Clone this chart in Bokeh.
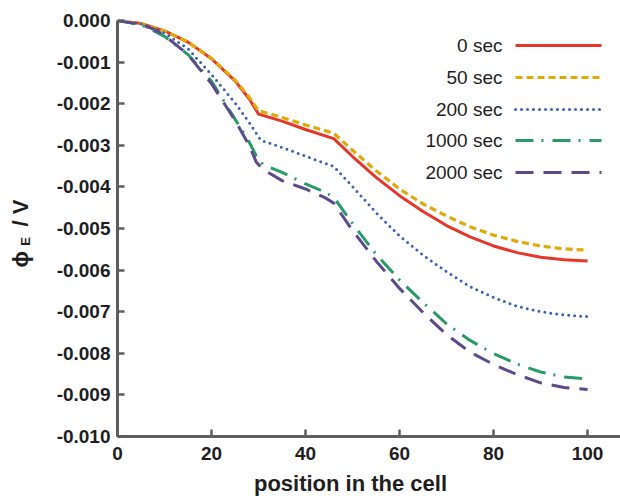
import math
from bokeh.plotting import figure
from bokeh.models import Label, Arrow, Range1d, FixedTicker
from bokeh.embed import file_html
from bokeh.resources import INLINE

# ---- data (potential in mV, converted to V below) ----
x_0s = [0, 5, 10, 15, 20, 25, 28, 30, 35, 40, 46, 50, 55, 60, 65, 70, 75, 80, 85, 90, 95, 100]
y_0s = [0, -0.07, -0.25, -0.52, -0.92, -1.45, -1.88, -2.25, -2.42, -2.62, -2.84, -3.27,
        -3.77, -4.21, -4.59, -4.93, -5.20, -5.42, -5.58, -5.69, -5.75, -5.78]

x_50s = [0, 5, 10, 15, 20, 25, 28, 30, 35, 40, 46, 50, 55, 60, 65, 70, 75, 80, 85, 90, 95, 100]
y_50s = [0, -0.07, -0.25, -0.52, -0.91, -1.43, -1.84, -2.17, -2.33, -2.51, -2.71, -3.12,
         -3.61, -4.05, -4.41, -4.70, -4.96, -5.16, -5.31, -5.42, -5.49, -5.52]

x_200s = [0, 5, 10, 15, 20, 25, 28, 30.5, 35, 40, 46, 50, 55, 60, 65, 70, 75, 80, 85, 90, 95, 100]
y_200s = [0, -0.08, -0.30, -0.68, -1.30, -1.98, -2.45, -2.88, -3.05, -3.26, -3.51, -3.99,
          -4.62, -5.18, -5.64, -6.04, -6.40, -6.66, -6.87, -7.00, -7.08, -7.12]

x_1000s = [0, 5, 10, 15, 20, 25, 28, 29.5, 31, 35, 40, 44, 46, 50, 55, 60, 65, 70, 75, 80,
           85, 90, 95, 100]
y_1000s = [0, -0.10, -0.38, -0.82, -1.46, -2.37, -2.92, -3.25, -3.47, -3.65, -3.93, -4.12,
           -4.25, -4.88, -5.62, -6.24, -6.78, -7.29, -7.69, -8.01, -8.26, -8.45, -8.57, -8.62]

x_2000s = [0, 5, 8, 10, 15, 20, 25, 28, 29.5, 31, 35, 40, 44, 46, 50, 55, 60, 65, 70, 75,
           80, 85, 90, 95, 100]
y_2000s = [0, -0.10, -0.22, -0.36, -0.82, -1.52, -2.40, -3.00, -3.40, -3.58, -3.85, -4.05,
           -4.25, -4.39, -5.05, -5.78, -6.44, -7.02, -7.55, -7.97, -8.27, -8.51, -8.71,
           -8.82, -8.87]

series_labels = ["0 sec", "50 sec", "200 sec", "1000 sec", "2000 sec"]

x_ticks = [0, 20, 40, 60, 80, 100]
y_ticks = [0.0, -0.001, -0.002, -0.003, -0.004, -0.005, -0.006, -0.007, -0.008, -0.009, -0.010]
y_tick_labels = ["0.000", "-0.001", "-0.002", "-0.003", "-0.004", "-0.005", "-0.006",
                 "-0.007", "-0.008", "-0.009", "-0.010"]

# ---- styles / layout ----
colors = ["#e5372a", "#e2a90a", "#3c62b4", "#2a9a68", "#5b4a8c"]
dashes = ["solid", "7 4", "0 6", "18 8 2 9", "18 10"]
caps = ["butt", "butt", "round", "butt", "butt"]
widths = [3, 3.2, 3, 3, 3]

FONT = "Liberation Sans"
TXT = "#1e1e1e"
AX = "#5e5e5e"

W, H = 620, 496
B_LEFT, B_RIGHT, B_TOP, B_BOTTOM = 117, 0, 20, 60
X0, X1 = 0.0, 107.0
Y0, Y1 = -0.010, 0.0
FW, FH = W - B_LEFT - B_RIGHT, H - B_TOP - B_BOTTOM


def px_x(px):
    """canvas pixel column -> x data coordinate (for placing titles)"""
    return X0 + (px - B_LEFT) / FW * (X1 - X0)


def px_y(py):
    """canvas pixel row -> y data coordinate (for placing titles)"""
    return Y0 + (B_TOP + FH - py) / FH * (Y1 - Y0)


p = figure(width=W, height=H, output_backend="svg", toolbar_location=None,
           x_range=Range1d(X0, X1), y_range=Range1d(Y0, Y1),
           min_border_left=B_LEFT, min_border_right=B_RIGHT,
           min_border_top=B_TOP, min_border_bottom=B_BOTTOM)
p.outline_line_color = None
p.xgrid.visible = False
p.ygrid.visible = False
p.background_fill_color = "white"
p.border_fill_color = "white"

data = [(x_0s, y_0s), (x_50s, y_50s), (x_200s, y_200s), (x_1000s, y_1000s), (x_2000s, y_2000s)]
for (xs, ys), c, d, cap, w in zip(data, colors, dashes, caps, widths):
    p.line([float(v) for v in xs], [v * 1e-3 for v in ys], line_color=c, line_width=w,
           line_dash=d, line_cap=cap, line_join="round")

for ax in (p.xaxis[0], p.yaxis[0]):
    ax.axis_line_color = AX
    ax.axis_line_width = 3
    ax.major_tick_line_color = AX
    ax.major_tick_line_width = 2.5
    ax.major_tick_in = 7
    ax.major_tick_out = 0
    ax.minor_tick_line_color = None
    ax.major_label_text_font = FONT
    ax.major_label_text_font_style = "bold"
    ax.major_label_text_font_size = "19px"
    ax.major_label_text_color = TXT

p.xaxis[0].ticker = FixedTicker(ticks=x_ticks)
p.xaxis[0].major_label_standoff = 10
p.yaxis[0].ticker = FixedTicker(ticks=y_ticks)
p.yaxis[0].major_label_overrides = {t: s for t, s in zip(y_ticks, y_tick_labels)}
p.yaxis[0].major_label_standoff = 7

# ---- axis titles, placed in the side panels so they are not clipped by the frame ----
p.add_layout(Label(x=px_x(350), y=px_y(483), text="position in the cell",
                   text_font=FONT, text_font_style="bold", text_font_size="22px",
                   text_color=TXT, text_align="center", text_baseline="alphabetic"), "below")

# y title: "ϕ_E / V" -> main text with a gap, plus a small subscript "E"
p.add_layout(Label(x=px_x(20), y=px_y(267), text="ϕ\u00a0\u00a0\u00a0\u00a0/ V",
                   angle=math.pi / 2, angle_units="rad",
                   text_font=FONT, text_font_style="bold", text_font_size="22px",
                   text_color=TXT, text_align="left", text_baseline="middle"), "left")
p.add_layout(Label(x=px_x(24.5), y=px_y(241), text="E",
                   angle=math.pi / 2, angle_units="rad",
                   text_font=FONT, text_font_style="bold", text_font_size="13px",
                   text_color=TXT, text_align="center", text_baseline="middle"), "left")

# ---- legend: label on the left, line sample on the right (inside the frame) ----
row_y = [391, 359, 327, 296, 264]
for lab, yy, c, d, cap, w in zip(series_labels, row_y, colors, dashes, caps, widths):
    p.add_layout(Label(x=385, y=yy, x_units="screen", y_units="screen", text=lab,
                       text_font=FONT, text_font_size="19px", text_color=TXT,
                       text_align="right", text_baseline="middle"))
    p.add_layout(Arrow(x_start=398, y_start=yy, x_end=484, y_end=yy,
                       start_units="screen", end_units="screen", start=None, end=None,
                       line_color=c, line_width=w, line_dash=d, line_cap=cap))

open("out.html", "w").write(file_html(p, INLINE))
